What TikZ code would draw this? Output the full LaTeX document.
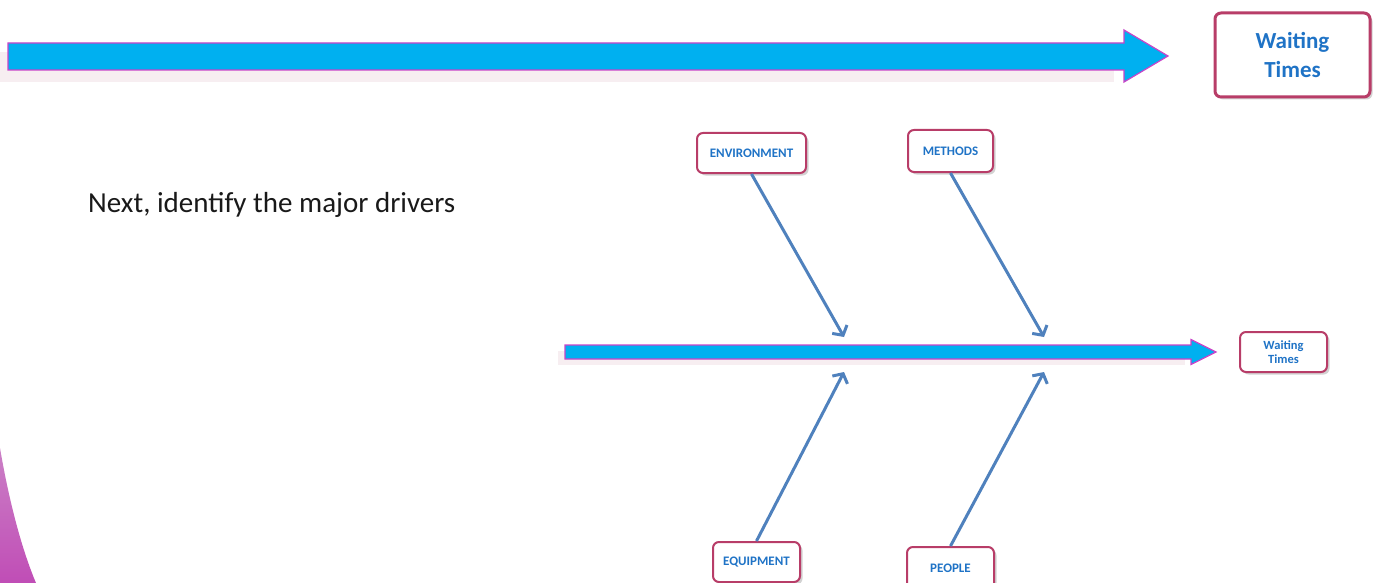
\documentclass[tikz,border=0pt]{standalone}
\usepackage{fontspec}
\setmainfont{Carlito}
\usepackage{tikz}
\usetikzlibrary{arrows.meta, positioning, calc, shadows}
\definecolor{spineblue}{HTML}{00B0F0}
\definecolor{spineedge}{HTML}{C844C8}
\definecolor{spineshadow}{HTML}{F7EEF1}
\definecolor{boxedge}{HTML}{B83D68}
\definecolor{labelblue}{HTML}{1F73C6}
\definecolor{bonecolor}{HTML}{4F81BD}
\definecolor{cornertop}{HTML}{CB80C6}
\definecolor{cornerbot}{HTML}{C04DB6}
\tikzset{>=Latex}

\begin{document}
\begin{tikzpicture}[x=1pt,y=-1pt]

         %%%%%%%%%%%%%%%%%%%%%%%%%%%%%%%%%%%%%%%%%%%%%%%%%%%%%%%%%%%%%%%%%%%%%%
         % Parameter
         %%%%%%%%%%%%%%%%%%%%%%%%%%%%%%%%%%%%%%%%%%%%%%%%%%%%%%%%%%%%%%%%%%%%%%
         \def\W{1378}
         \def\H{583}
         \def\spineL{565}
         \def\spineR{1191}
         \def\spineTop{345}
         \def\spineBot{359}

         \useasboundingbox (0,0) rectangle (\W,\H);

         % Stile fuer Kaesten, Graeten und Pfeile
         \tikzset{
            causebox/.style={
            draw=boxedge, line width=2pt, rounded corners=6pt, fill=white,
            drop shadow={shadow xshift=2.5pt, shadow yshift=-2.5pt, fill=black!35},
            minimum width=87pt, minimum height=40pt, inner sep=0pt,
            align=center, text=labelblue,
            font=\fontsize{13}{14}\selectfont\bfseries
            },
            bone/.style={
            draw=bonecolor, line width=3pt,
            -{Straight Barb[length=7pt, width=17pt]}
            },
            spine/.style={fill=spineblue, draw=spineedge, line width=1.2pt},
            spineshade/.style={fill=spineshadow}
         }

         %%%%%%%%%%%%%%%%%%%%%%%%%%%%%%%%%%%%%%%%%%%%%%%%%%%%%%%%%%%%%%%%%%%%%%
         % Ecke unten links
         %%%%%%%%%%%%%%%%%%%%%%%%%%%%%%%%%%%%%%%%%%%%%%%%%%%%%%%%%%%%%%%%%%%%%%
         \shade[top color=cornertop, bottom color=cornerbot]
         (0,448) .. controls (8,495) and (20,545) .. (36,\H) -- (0,\H) -- cycle;

         %%%%%%%%%%%%%%%%%%%%%%%%%%%%%%%%%%%%%%%%%%%%%%%%%%%%%%%%%%%%%%%%%%%%%%
         % Grosser Pfeil oben
         %%%%%%%%%%%%%%%%%%%%%%%%%%%%%%%%%%%%%%%%%%%%%%%%%%%%%%%%%%%%%%%%%%%%%%
         \fill[spineshade] (0,52) rectangle (1114,82);
         \draw[spine] (8,43) -- (1124,43) -- (1124,30) -- (1168,56)
         -- (1124,82) -- (1124,70) -- (8,70) -- cycle;

         \node[causebox, minimum width=155pt, minimum height=84pt, line width=3pt,
         font=\fontsize{23}{29}\selectfont\bfseries] (effectTop) at (1292.5,55)
         {Waiting\\Times};

         %%%%%%%%%%%%%%%%%%%%%%%%%%%%%%%%%%%%%%%%%%%%%%%%%%%%%%%%%%%%%%%%%%%%%%
         % Text
         %%%%%%%%%%%%%%%%%%%%%%%%%%%%%%%%%%%%%%%%%%%%%%%%%%%%%%%%%%%%%%%%%%%%%%
         \node[anchor=base west, inner sep=0pt, text=black!90,
         font=\fontsize{29}{34}\selectfont] (intro) at (88,212)
         {Next, identify the major drivers};

         %%%%%%%%%%%%%%%%%%%%%%%%%%%%%%%%%%%%%%%%%%%%%%%%%%%%%%%%%%%%%%%%%%%%%%
         % Hauptgraete
         %%%%%%%%%%%%%%%%%%%%%%%%%%%%%%%%%%%%%%%%%%%%%%%%%%%%%%%%%%%%%%%%%%%%%%
         \fill[spineshade] (558,351) rectangle (1185,365);
         \draw[spine] (\spineL,\spineTop) -- (\spineR,\spineTop) -- (\spineR,339.5)
         -- (1216,352) -- (\spineR,364.5) -- (\spineR,\spineBot) -- (\spineL,\spineBot) -- cycle;

         \node[causebox, font=\fontsize{12.5}{13.5}\selectfont\bfseries]
         (effect) at (1283.5,352) {Waiting\\Times};

         %%%%%%%%%%%%%%%%%%%%%%%%%%%%%%%%%%%%%%%%%%%%%%%%%%%%%%%%%%%%%%%%%%%%%%
         % Ursachen
         %%%%%%%%%%%%%%%%%%%%%%%%%%%%%%%%%%%%%%%%%%%%%%%%%%%%%%%%%%%%%%%%%%%%%%
         \node[causebox, minimum width=109pt] (env) at (751.5,153) {ENVIRONMENT};
         \node[causebox, minimum width=85pt, minimum height=42pt] (meth) at (950.5,151) {METHODS};
         \node[causebox] (equip) at (756.5,562) {EQUIPMENT};
         \node[causebox, minimum height=43pt] (people) at (950.5,568.5) {PEOPLE};

         % Spitzen an der Hauptgraete
         \coordinate (envTip)    at (844,337);
         \coordinate (methTip)   at (1044,337);
         \coordinate (equipTip)  at (844,372);
         \coordinate (peopleTip) at (1044,372);

         \draw[bone] (env.south) -- (envTip);
         \draw[bone] (meth.south) -- (methTip);
         \draw[bone] (equip.north) -- (equipTip);
         \draw[bone] (people.north) -- (peopleTip);

\end{tikzpicture}
\end{document}
